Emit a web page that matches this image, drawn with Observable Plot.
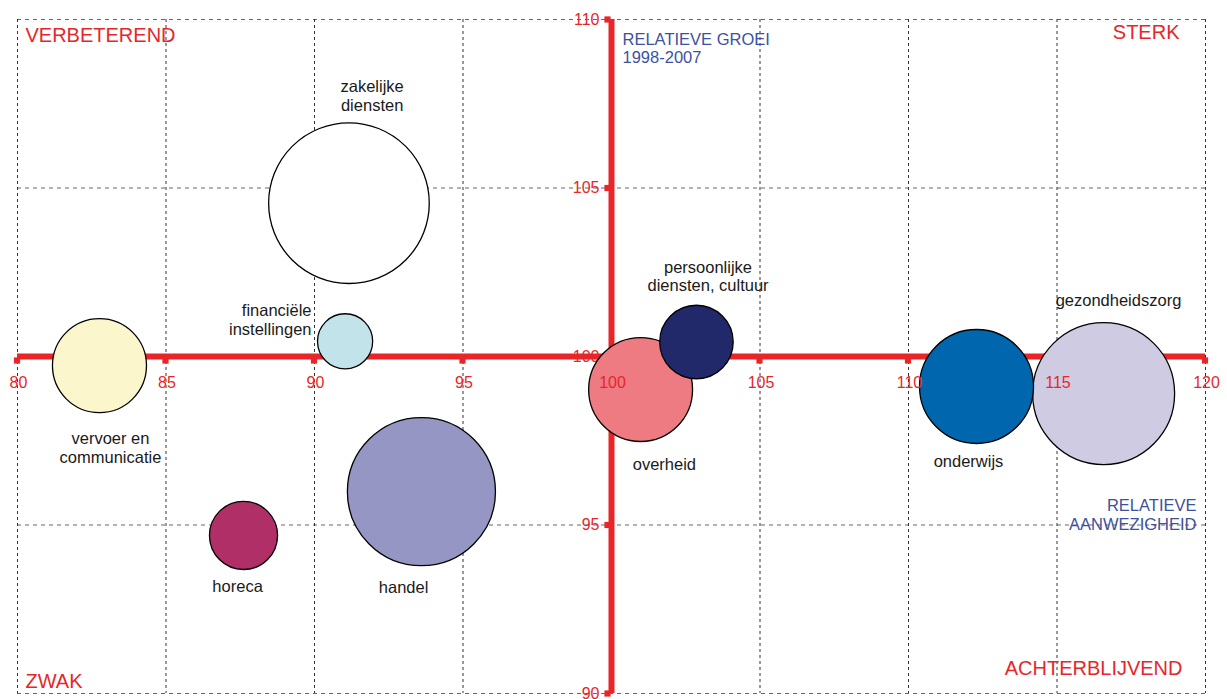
<!DOCTYPE html>
<html><head><meta charset="utf-8">
<script src="https://cdn.jsdelivr.net/npm/d3@7"></script>
<script src="https://cdn.jsdelivr.net/npm/@observablehq/plot@0.6"></script>
<style>body{margin:0;background:#fff;} svg{display:block;}</style>
</head><body><div id="chart"></div>
<script>
// Data
const sectors = ["vervoer en\ncommunicatie", "zakelijke\ndiensten", "financiële\ninstellingen", "horeca", "handel", "overheid", "persoonlijke\ndiensten, cultuur", "onderwijs", "gezondheidszorg"];
const presence = [82.76, 91.16, 91.03, 87.61, 93.6, 100.98, 102.86, 112.29, 116.57]; // relatieve aanwezigheid (x)
const growth   = [99.73, 104.55, 100.45, 94.69, 95.99, 99.02, 100.43, 99.11, 98.9]; // relatieve groei (y)
const sizes    = [22.1, 64.5, 7.6, 11.6, 54.8, 27.0, 13.5, 32.5, 50.4];
const colors   = ["#fbf6cc", "#ffffff", "#c3e3eb", "#b02f66", "#9696c5", "#ee7a82", "#21296a", "#0066ad", "#cfcbe3"];
const labelX   = [83.13, 91.94, 89.9, 87.41, 93.0, 101.78, 103.25, 112.02, 117.07];
const labelY   = [97.3, 107.74, 101.1, 93.18, 93.15, 96.82, 102.39, 96.91, 101.66];
const labelAnchor = ["middle", "middle", "end", "middle", "middle", "middle", "middle", "middle", "middle"];
const xTicks = [80, 85, 90, 95, 100, 105, 110, 115, 120];
const yTicks = [90, 95, 100, 105, 110];
const axisCross = 100;

const red = "#e8262a";
const blue = "#3d51a1";
const font = "'Liberation Sans', Arial, sans-serif";

const bubbles = sectors.map((s, i) => ({sector: s, x: presence[i], y: growth[i], size: sizes[i], color: colors[i], lx: labelX[i], ly: labelY[i], anchor: labelAnchor[i]}));

const labelOpts = {x: "lx", y: "ly", text: "sector", lineAnchor: "middle", lineHeight: 1.12, fontSize: 16.5, fill: "#1a1a1a"};

const chart = Plot.plot({
  width: 1227,
  height: 699,
  marginLeft: 17,
  marginRight: 22,
  marginTop: 19,
  marginBottom: 6,
  style: {fontFamily: font, background: "#fff", overflow: "visible"},
  x: {domain: [80, 120], axis: null},
  y: {domain: [90, 110], axis: null},
  r: {type: "sqrt", domain: [0, 100], range: [0, 100]},
  marks: [
    // dashed grid
    Plot.ruleY(yTicks, {stroke: "#666", strokeWidth: 1, strokeDasharray: "4,4"}),
    Plot.ruleX(xTicks, {stroke: "#333", strokeWidth: 1, strokeDasharray: "3,3"}),
    // red axes
    Plot.ruleY([axisCross], {x1: 80, x2: 120, stroke: red, strokeWidth: 6}),
    Plot.ruleX([axisCross], {y1: 90, y2: 110, stroke: red, strokeWidth: 6}),
    Plot.dot(xTicks, {x: d => d, y: () => axisCross, symbol: "square", r: 3.5, fill: red, dx: -0.5, dy: 4}),
    Plot.dot(yTicks, {x: () => axisCross, y: d => d, symbol: "square", r: 3.5, fill: red, dx: -4}),
    // y tick labels
    Plot.text(yTicks, {x: () => axisCross, y: d => d, text: d => String(d), textAnchor: "end", dx: -12, dy: 0, fill: red, fontSize: 16}),
    // bubbles
    Plot.dot(bubbles, {x: "x", y: "y", r: "size", fill: "color", stroke: "#000", strokeWidth: 1.3}),
    // x tick labels
    Plot.text(xTicks, {x: d => d, y: () => axisCross, text: d => String(d), dy: 26, dx: 1, fill: red, fontSize: 16}),
    // sector labels
    Plot.text(bubbles.filter(d => d.anchor === "middle"), {...labelOpts, textAnchor: "middle"}),
    Plot.text(bubbles.filter(d => d.anchor === "end"), {...labelOpts, textAnchor: "end"}),
    // quadrant labels
    Plot.text(["VERBETEREND"], {frameAnchor: "top-left", textAnchor: "start", lineAnchor: "middle", dx: 8, dy: 16, fill: red, fontSize: 20}),
    Plot.text(["STERK"], {frameAnchor: "top-right", textAnchor: "end", lineAnchor: "middle", dx: -26, dy: 13, fill: red, fontSize: 20}),
    Plot.text(["ZWAK"], {frameAnchor: "bottom-left", textAnchor: "start", lineAnchor: "middle", dx: 8, dy: -12, fill: red, fontSize: 20}),
    Plot.text(["ACHTERBLIJVEND"], {frameAnchor: "bottom-right", textAnchor: "end", lineAnchor: "middle", dx: -23, dy: -25, fill: red, fontSize: 20}),
    // axis titles
    Plot.text(["RELATIEVE GROEI\n1998-2007"], {frameAnchor: "top", textAnchor: "start", lineAnchor: "middle", dx: 11, dy: 28.5, lineHeight: 1.12, fill: blue, fontSize: 16.5}),
    Plot.text(["RELATIEVE\nAANWEZIGHEID"], {frameAnchor: "right", textAnchor: "end", lineAnchor: "middle", dx: -9, dy: 158, lineHeight: 1.12, fill: blue, fontSize: 16.5})
  ]
});
document.getElementById("chart").appendChild(chart);
</script>
</body></html>
